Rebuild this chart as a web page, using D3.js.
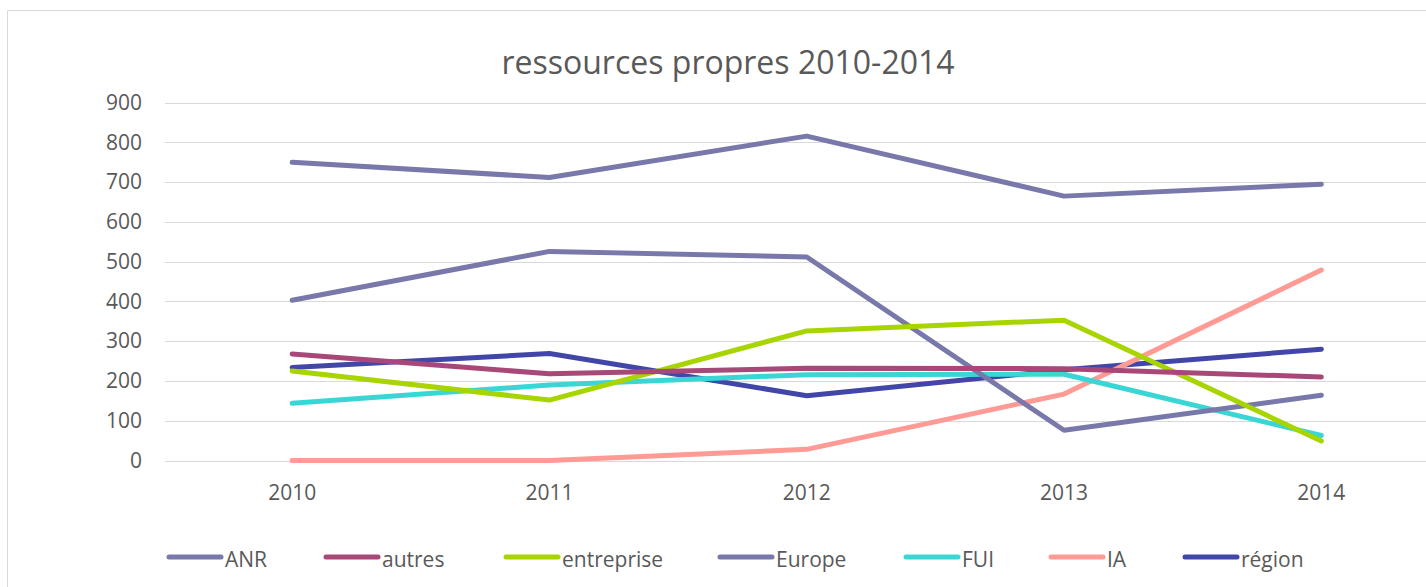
<!DOCTYPE html>
<html>
<head>
<meta charset="utf-8">
<script src="https://cdn.jsdelivr.net/npm/d3@7"></script>
<style>
body { margin: 0; background: #fff; }
text { font-family: "Open Sans", sans-serif; fill: #595959; }
</style>
</head>
<body>
<div class="chart"></div>
<script>
var years = ["2010", "2011", "2012", "2013", "2014"];
var yTicks = [0, 100, 200, 300, 400, 500, 600, 700, 800, 900];
var seriesNames = ["ANR", "autres", "entreprise", "Europe", "FUI", "IA", "région"];
var seriesColors = ["#7878AA", "#A84878", "#A8D400", "#7878AA", "#3AD6D6", "#FF9A94", "#4146A8"];

var anrValues = [750, 712, 816, 665, 695];
var autresValues = [268, 218, 232, 231, 210];
var entrepriseValues = [225, 152, 326, 353, 49];
var europeValues = [403, 526, 512, 76, 164];
var fuiValues = [144, 190, 216, 217, 63];
var iaValues = [0, 0, 28, 167, 479];
var regionValues = [234, 269, 163, 228, 280];

var allValues = [anrValues, autresValues, entrepriseValues, europeValues, fuiValues, iaValues, regionValues];

var svgWidth = 1426;
var svgHeight = 587;

var svg = d3.select(".chart")
    .append("svg")
    .attr("width", svgWidth)
    .attr("height", svgHeight);

// chart border (cropped on the right and bottom)
svg.append("path")
    .attr("d", "M7.5,587 V10.5 H1426")
    .attr("fill", "none")
    .attr("stroke", "#D9D9D9")
    .attr("stroke-width", 1);

svg.append("text")
    .attr("x", 728)
    .attr("y", 74)
    .attr("text-anchor", "middle")
    .attr("font-size", "32px")
    .text("ressources propres 2010-2014");

var xScale = d3.scaleBand()
    .domain(years)
    .range([163.5, 1450]);

var yScale = d3.scaleLinear()
    .domain([0, 900])
    .range([460.5, 102.7]);

// gridlines
svg.append("g")
    .selectAll("line")
    .data(yTicks)
    .enter()
    .append("line")
    .attr("x1", 165)
    .attr("x2", svgWidth)
    .attr("y1", d => Math.round(yScale(d)) + 0.5)
    .attr("y2", d => Math.round(yScale(d)) + 0.5)
    .attr("stroke", "#D9D9D9")
    .attr("stroke-width", 1.2);

var leftAxis = d3.axisLeft(yScale).tickValues(yTicks).tickSize(0).tickPadding(0);
var yAxis = svg.append("g")
    .attr("transform", "translate(142, 0)")
    .call(leftAxis);
yAxis.select(".domain").remove();
yAxis.selectAll("text")
    .attr("font-size", "21px")
    .attr("font-family", "Open Sans, sans-serif")
    .attr("fill", "#595959");

var bottomAxis = d3.axisBottom(xScale).tickSize(0).tickPadding(0);
var xAxis = svg.append("g")
    .attr("transform", "translate(0, 485)")
    .call(bottomAxis);
xAxis.select(".domain").remove();
xAxis.selectAll("text")
    .attr("font-size", "21px")
    .attr("font-family", "Open Sans, sans-serif")
    .attr("fill", "#595959");

var line = d3.line()
    .x((d, i) => xScale(years[i]) + xScale.bandwidth() / 2)
    .y(d => yScale(d));

// drawn in reverse so ANR ends up on top, like Excel
var order = [6, 5, 4, 3, 2, 1, 0];
svg.append("g")
    .selectAll("path")
    .data(order)
    .enter()
    .append("path")
    .attr("d", i => line(allValues[i]))
    .attr("fill", "none")
    .attr("stroke", i => seriesColors[i])
    .attr("stroke-width", 5)
    .attr("stroke-linecap", "round")
    .attr("stroke-linejoin", "round");

// legend
var legendX = [167, 324, 504, 718, 904, 1049, 1183];
var legend = svg.append("g");
seriesNames.forEach(function(name, i) {
    legend.append("line")
        .attr("x1", legendX[i] + 2)
        .attr("x2", legendX[i] + 54)
        .attr("y1", 557)
        .attr("y2", 557)
        .attr("stroke", seriesColors[i])
        .attr("stroke-width", 5)
        .attr("stroke-linecap", "round");
    legend.append("text")
        .attr("x", legendX[i] + 58)
        .attr("y", 567)
        .attr("font-size", "21px")
        .text(name);
});
</script>
</body>
</html>
